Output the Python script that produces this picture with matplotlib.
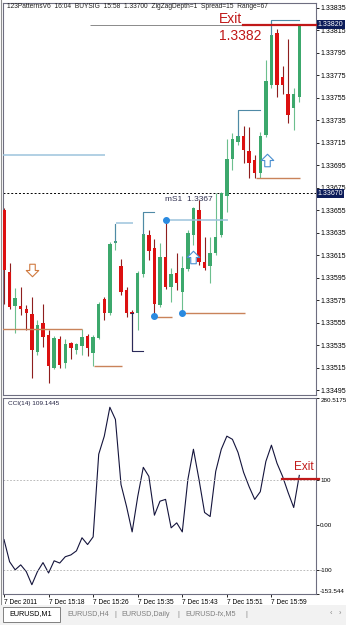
import matplotlib
matplotlib.use("Agg")
import matplotlib.pyplot as plt
import numpy as np
from matplotlib.path import Path
from matplotlib.patches import Rectangle

plt.rcParams['font.family'] = ['Liberation Sans', 'DejaVu Sans']

W, H = 346, 625

# EURUSD M1, 7 Dec 2011 15:10 .. 16:04
opens = [1.33655, 1.33600, 1.33570, 1.33570, 1.33567, 1.33563, 1.33529, 1.33555, 1.33544, 1.33515,
         1.33540, 1.33519, 1.33537, 1.33531, 1.33534, 1.33543, 1.33528, 1.33541, 1.33576, 1.33564,
         1.33626, 1.33605, 1.33584, 1.33564, 1.33564, 1.33598, 1.33633, 1.33621, 1.33571, 1.33613,
         1.33587, 1.33599, 1.33582, 1.33603, 1.33633, 1.33655, 1.33609, 1.33605, 1.33617, 1.33633,
         1.33668, 1.33701, 1.33716, 1.33721, 1.33708, 1.33700, 1.33688, 1.33722, 1.33766, 1.33813,
         1.33774, 1.33758, 1.33746, 1.33756]
highs = [1.33657, 1.33608, 1.33586, 1.33587, 1.33571, 1.33578, 1.33557, 1.33572, 1.33548, 1.33543,
         1.33543, 1.33540, 1.33538, 1.33537, 1.33549, 1.33545, 1.33544, 1.33573, 1.33578, 1.33627,
         1.33643, 1.33612, 1.33587, 1.33566, 1.33601, 1.33653, 1.33637, 1.33629, 1.33626, 1.33646,
         1.33604, 1.33617, 1.33614, 1.33637, 1.33658, 1.33664, 1.33631, 1.33631, 1.33670, 1.33671,
         1.33718, 1.33724, 1.33744, 1.33730, 1.33729, 1.33704, 1.33725, 1.33789, 1.33824, 1.33816,
         1.33783, 1.33807, 1.33764, 1.33820]
lows = [1.33572, 1.33567, 1.33546, 1.33562, 1.33548, 1.33506, 1.33526, 1.33533, 1.33501, 1.33514,
        1.33515, 1.33515, 1.33523, 1.33527, 1.33526, 1.33525, 1.33516, 1.33540, 1.33557, 1.33562,
        1.33620, 1.33580, 1.33560, 1.33530, 1.33548, 1.33596, 1.33611, 1.33561, 1.33569, 1.33585,
        1.33573, 1.33584, 1.33564, 1.33601, 1.33624, 1.33606, 1.33602, 1.33590, 1.33615, 1.33631,
        1.33653, 1.33691, 1.33713, 1.33697, 1.33684, 1.33684, 1.33684, 1.33720, 1.33764, 1.33756,
        1.33758, 1.33733, 1.33726, 1.33751]
closes = [1.33602, 1.33569, 1.33577, 1.33567, 1.33564, 1.33531, 1.33553, 1.33542, 1.33516, 1.33541,
          1.33517, 1.33536, 1.33532, 1.33536, 1.33542, 1.33532, 1.33542, 1.33572, 1.33564, 1.33625,
          1.33627, 1.33582, 1.33564, 1.33563, 1.33599, 1.33634, 1.33619, 1.33572, 1.33613, 1.33587,
          1.33598, 1.33590, 1.33604, 1.33635, 1.33657, 1.33609, 1.33604, 1.33617, 1.33631, 1.33670,
          1.33701, 1.33718, 1.33721, 1.33709, 1.33697, 1.33688, 1.33721, 1.33770, 1.33811, 1.33766,
          1.33766, 1.33740, 1.33758, 1.33820]

cci = [-33, -82, -100, -89, -104, -133, -104, -84, -107, -80,
       -85, -71, -67, -58, -29, -44, -27, 156, 196, 260,
       233, 89, 40, -16, 62, 127, 107, 21, 52, 56,
       -7, 4, -16, 100, 167, 100, 27, 18, 118, 167,
       196, 189, 160, 116, 84, 56, 73, 140, 176, 136,
       107, 71, 38, 109.1445]

time_idx = [0, 8, 16, 24, 32, 40, 48]
time_labels = ["7 Dec 2011", "7 Dec 15:18", "7 Dec 15:26", "7 Dec 15:35",
               "7 Dec 15:43", "7 Dec 15:51", "7 Dec 15:59"]

# indicator levels
res_price = [1.33704, 1.33644, 1.33646]
res_start = [-0.3, 20.1, 29.1]
res_end = [18.1, 23.2, 40.2]
sup_price = [1.33549, 1.33516, 1.33560, 1.33564, 1.33684]
sup_start = [-0.3, 16.2, 27.1, 32.1, 45.2]
sup_end = [14.0, 21.2, 30.2, 43.3, 53.1]
peak_idx = [20, 25, 42, 48]
peak_end = [20, 27, 46, 53]
dot_idx = [27, 29, 32]
dot_price = [1.33561, 1.33646, 1.33564]
buy_idx = [34, 47.2]
buy_price = [1.33613, 1.33700]
sell_idx = [5.1]
sell_price = [1.33602]
bid = 1.33820
ms1 = 1.3367
exit_cci = 102

x = np.arange(len(opens))
o = np.array(opens); c = np.array(closes)
up = c >= o

fig = plt.figure(figsize=(W / 100, H / 100), dpi=100)
fig.patch.set_facecolor('white')

def px(l, t, r, b):
    return [l / W, 1 - b / H, (r - l) / W, (b - t) / H]

ax = fig.add_axes(px(3, 3, 316, 395))
ax2 = fig.add_axes(px(3, 398, 316, 594))

GREEN, RED = '#3ca86c', '#dc1010'
for i in x:
    wc = '#6cbf8e' if up[i] else '#8e1e1e'
    ax.vlines(i, lows[i], highs[i], color=wc, lw=0.8, zorder=2)
body = np.maximum(np.abs(c - o), 0.000012)
ax.bar(x, body, bottom=np.minimum(o, c), width=0.62,
       color=np.where(up, GREEN, RED), zorder=3)

# levels
ax.hlines(res_price, res_start, res_end, color='#9cc3dc', lw=1.1, zorder=4)
ax.hlines(sup_price, sup_start, sup_end, color='#c9835a', lw=1.0, zorder=4)
for i, e in zip(peak_idx, peak_end):
    ax.plot([i, i, e], [max(o[i], c[i]), highs[i], highs[i]], color='#4f8aa6', lw=0.8, zorder=4)
ax.plot([23, 23, 25], [1.33564, 1.33530, 1.33530], color='#2a2a5a', lw=0.8, zorder=4)
ax.plot([22.8, 23.2], [1.33564, 1.33564], color='#2a2a5a', lw=0.8, zorder=4)
ax.plot(dot_idx, dot_price, 'o', color='#2a8ae0', ms=4, zorder=5)

# arrows
up_path = Path([(-0.22, -0.5), (0.22, -0.5), (0.22, 0.0), (0.5, 0.0), (0, 0.5),
                (-0.5, 0.0), (-0.22, 0.0), (-0.22, -0.5)],
               [Path.MOVETO] + [Path.LINETO] * 6 + [Path.CLOSEPOLY])
dn_path = Path(up_path.vertices * [1, -1], up_path.codes)
ax.plot(buy_idx, buy_price, ls='none', marker=up_path, ms=9, mfc='white', mec='#4a8fd0', mew=0.8, zorder=6)
ax.plot(sell_idx, sell_price, ls='none', marker=dn_path, ms=9, mfc='white', mec='#d07a40', mew=0.8, zorder=6)

# bid / exit lines
ax.axhline(ms1, color='black', lw=0.7, ls=(0, (2, 2)), zorder=1)
ax.hlines(bid, 15.4, 42.9, color='#8a8a8a', lw=0.7, zorder=4)
ax.plot([42.9, 56.4], [bid, bid], color='#c01818', lw=1.6, zorder=6, clip_on=False)
ax.text(38.6, 1.33825, "Exit", color='#c01818', fontsize=10, va='center', ha='left')
ax.text(38.6, 1.33810, "1.3382", color='#c01818', fontsize=10, va='center', ha='left')
ax.text(28.9, 1.33665, "mS1  1.3367", color='#303050', fontsize=6, va='center', ha='left')

ax.set_xlim(-0.18, 56.0)
ax.set_ylim(1.334906, 1.338394)
yt = np.round(np.arange(1.33495, 1.33836, 0.0002), 5)
ax.set_yticks(yt)
ax.set_yticklabels(["%.5f" % v for v in yt])
ax.yaxis.tick_right()
ax.tick_params(axis='y', length=2, width=0.6, pad=1.5, labelsize=5, colors='black')
ax.set_xticks([])

for val, y in ((bid, "%.5f" % bid), (ms1, "%.5f" % ms1)):
    ax.text(1.006, val, y, transform=ax.get_yaxis_transform(), fontsize=5, color='white',
            va='center', ha='left', zorder=10,
            bbox=dict(boxstyle='square,pad=0.15', fc='#0c1c5a', ec='none'))

# CCI panel
ax2.plot(x, cci, color='#14143c', lw=0.8)
ax2.axhline(100, color='#b0b0b0', lw=0.6, ls=(0, (2, 2)))
ax2.axhline(-100, color='#b0b0b0', lw=0.6, ls=(0, (2, 2)))
ax2.plot([49.9, 56.6], [exit_cci, exit_cci], color='#c01818', lw=1.6, clip_on=False, zorder=5)
ax2.text(52.0, 128, "Exit", color='#c01818', fontsize=8.5, va='center', ha='left')
ax2.text(0.016, 0.985, "CCI(14) 109.1445", transform=ax2.transAxes, fontsize=4.6,
         color='#202040', va='top', ha='left')
ax2.set_xlim(-0.18, 56.0)
ax2.set_ylim(-153.544, 280.5175)
ax2.set_yticks([-153.544, -100, 0, 100, 280.5175])
ax2.set_yticklabels(["-153.544", "-100", "0.00", "100", "280.5175"])
ax2.yaxis.tick_right()
ax2.tick_params(axis='y', length=2, width=0.6, pad=1.0, labelsize=4.5, colors='black')
lbl = ax2.get_yticklabels()
lbl[0].set_va('bottom')
lbl[-1].set_va('top')
ax2.set_xticks(time_idx)
ax2.set_xticklabels(time_labels)
ax2.tick_params(axis='x', length=2, width=0.6, pad=1.5, labelsize=4.8, colors='black')
for t in ax2.get_xticklabels():
    t.set_ha('left')

for a in (ax, ax2):
    for s in a.spines.values():
        s.set_color('#6e6e80')
        s.set_linewidth(0.8)

fig.text(7 / W, 1 - 6 / H,
         "123PatternsV6  16:04  BUYSIG  15:58  1.33700  ZigZagDepth=1  Spread=15  Range=67",
         fontsize=4.8, color='#202020', va='center', ha='left')

# left frame and tab bar
fig.add_artist(plt.Line2D([1 / W, 1 / W], [1 - 604 / H, 1], color='#909090', lw=0.8))
fig.add_artist(Rectangle((0, 0), 1, 20 / H, transform=fig.transFigure, fc='#f2f2f2', ec='none'))
fig.add_artist(Rectangle((3 / W, 3 / H), 57 / W, 15 / H, transform=fig.transFigure,
                         fc='white', ec='#808080', lw=0.7))
tabs = ["EURUSD,M1", "EURUSD,H4", "|", "EURUSD,Daily", "|", "EURUSD-fx,M5", "|", "\u2039", "\u203a"]
tab_x = [9, 67, 114, 121, 177, 185, 245, 330, 339]
for t, tx in zip(tabs, tab_x):
    fig.text(tx / W, 1 - 614 / H, t, fontsize=5.2, va='center', ha='left',
             color='black' if t == "EURUSD,M1" else '#808080')

fig.savefig("out.png", dpi=100)
